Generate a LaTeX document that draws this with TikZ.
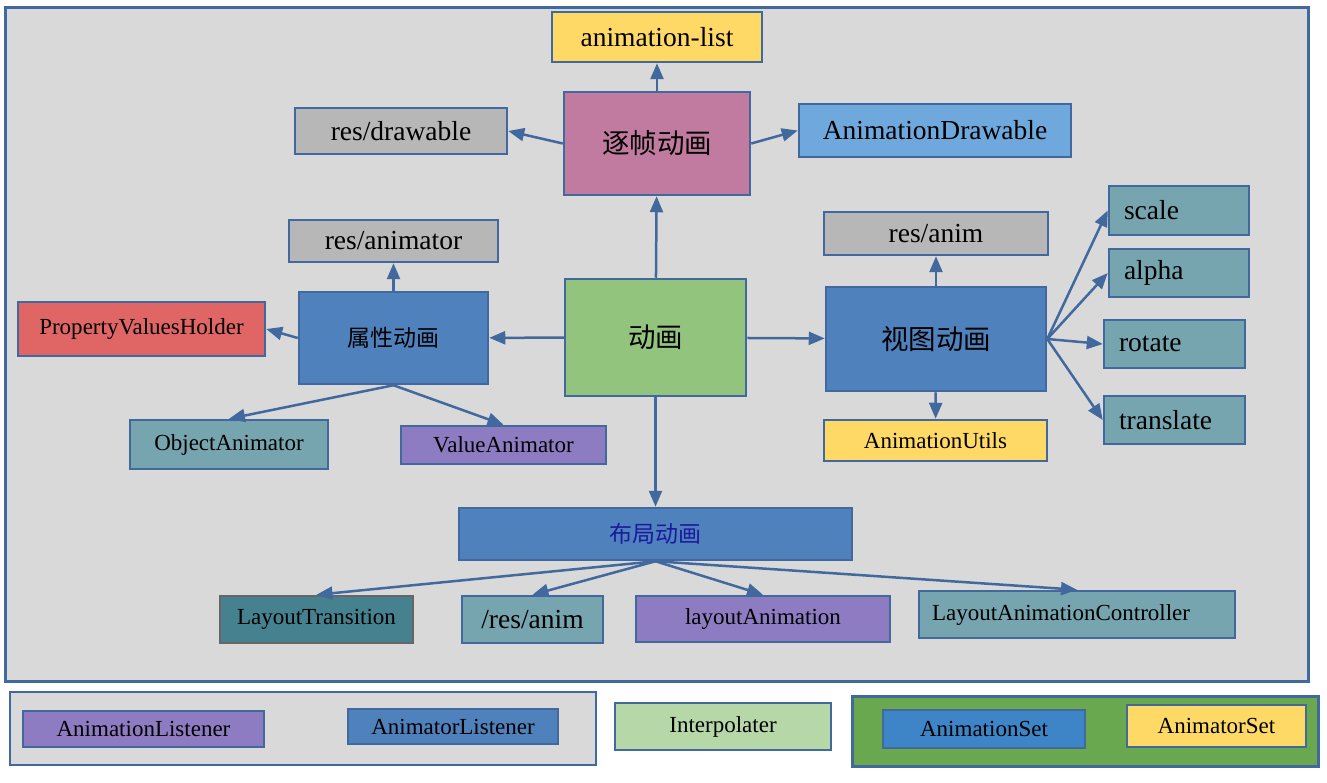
\documentclass[tikz,border=0pt]{standalone}
\usepackage{fontspec}
\setmainfont{Liberation Serif}
\newfontfamily\cjk{Noto Sans CJK SC}
\usepackage{tikz}
\usetikzlibrary{arrows.meta}
\definecolor{edgeblue}{HTML}{41699D}
\definecolor{framegray}{HTML}{D9D9D9}
\definecolor{resgray}{HTML}{B7B7B7}
\definecolor{listyellow}{HTML}{FFD966}
\definecolor{framepink}{HTML}{C27BA0}
\definecolor{drawblue}{HTML}{6FA8DC}
\definecolor{animblue}{HTML}{4F81BD}
\definecolor{holderred}{HTML}{E06666}
\definecolor{rootgreen}{HTML}{93C47D}
\definecolor{viewteal}{HTML}{76A5AF}
\definecolor{valpurple}{HTML}{8E7CC3}
\definecolor{transteal}{HTML}{45818E}
\definecolor{transgray}{HTML}{666666}
\definecolor{interpgreen}{HTML}{B6D7A8}
\definecolor{setgreen}{HTML}{6AA84F}
\definecolor{setblue}{HTML}{3D85C6}
\definecolor{layouttext}{HTML}{1A1A9E}

\begin{document}
\begin{tikzpicture} [x=1pt, y=-1pt, >={Triangle[length=16pt, width=13pt]},
  blk/.style={draw=edgeblue, line width=2.5pt, inner sep=0pt},
  big/.style={font=\fontsize{27.5}{30}\selectfont},
  small/.style={font=\fontsize{23}{26}\selectfont},
  bigcjk/.style={font=\cjk\fontsize{27.5}{30}\selectfont},
  smallcjk/.style={font=\cjk\fontsize{23}{26}\selectfont},
  padleft/.style={text width=#1, align=left}]
\useasboundingbox (0,0) rectangle (1327,783);
\node[blk, line width=3pt, fill=framegray, minimum width=1303, minimum height=673](frame) at (656.5,344.5){};
\node[blk, fill=framegray, minimum width=586, minimum height=73](listeners) at (303,728.5){};
\node[blk, line width=3pt, fill=setgreen, minimum width=466, minimum height=70](sets) at (1085,731){};
% frame by frame
\node[blk, fill=listyellow, big, minimum width=210, minimum height=50](alist) at (657,37){animation-list};
\node[blk, fill=framepink, bigcjk, minimum width=186, minimum height=103](frameanim) at (657,143.5){逐帧动画};
\node[blk, fill=resgray, big, minimum width=212, minimum height=46](drawable) at (401,131){res/drawable};
\node[blk, fill=drawblue, big, minimum width=272, minimum height=53](adrawable) at (935,130.5){AnimationDrawable};
% property
\node[blk, fill=resgray, big, minimum width=209, minimum height=42](animator) at (393.5,241){res/animator};
\node[blk, fill=animblue, smallcjk, minimum width=189, minimum height=92](propanim) at (393.5,338){属性动画};
\node[blk, fill=holderred, small, minimum width=247, minimum height=54](holder) at (141.5,329){PropertyValuesHolder};
\node[blk, fill=viewteal, small, minimum width=198, minimum height=49](objanim) at (229,444.5){ObjectAnimator};
\node[blk, fill=valpurple, small, minimum width=205, minimum height=38](valanim) at (503.5,445){ValueAnimator};
% root
\node[blk, fill=rootgreen, bigcjk, minimum width=181, minimum height=117](root) at (655.5,337.5){动画};
% view
\node[blk, fill=resgray, big, minimum width=224, minimum height=43](resanim) at (936,233.5){res/anim};
\node[blk, fill=animblue, bigcjk, minimum width=220, minimum height=104](viewanim) at (936,339){视图动画};
\node[blk, fill=listyellow, small, minimum width=223, minimum height=41](utils) at (935.5,440.5){AnimationUtils};
\node[blk, fill=viewteal, big, padleft=110, minimum width=140, minimum height=49](scale) at (1179,210.5){scale};
\node[blk, fill=viewteal, big, padleft=110, minimum width=140, minimum height=48](alpha) at (1179,273){alpha};
\node[blk, fill=viewteal, big, padleft=111, minimum width=141, minimum height=48](rotate) at (1174.5,344){rotate};
\node[blk, fill=viewteal, big, padleft=111, minimum width=141, minimum height=48](translate) at (1174.5,420){translate};
% layout
\node[blk, fill=animblue, smallcjk, text=layouttext, minimum width=393, minimum height=52](layoutanim) at (655.5,534){布局动画};
\node[blk, draw=transgray, fill=transteal, small, minimum width=193, minimum height=47](transition) at (316.5,619.5){LayoutTransition};
\node[blk, fill=viewteal, big, minimum width=141, minimum height=47](resanim2) at (532.5,619.5){/res/anim};
\node[blk, fill=valpurple, small, minimum width=254, minimum height=46](lanimation) at (763,619){layoutAnimation};
\node[blk, fill=viewteal, small, padleft=290, minimum width=316, minimum height=47](controller) at (1077,614.5){LayoutAnimationController};
% legend
\node[blk, fill=valpurple, small, minimum width=241, minimum height=36](alistener) at (143.5,729){AnimationListener};
\node[blk, fill=animblue, small, minimum width=210, minimum height=35](rlistener) at (453,726.5){AnimatorListener};
\node[blk, fill=interpgreen, small, minimum width=216, minimum height=47](interp) at (723,726.5){Interpolater};
\node[blk, fill=setblue, small, minimum width=202, minimum height=38](aset) at (984,729){AnimationSet};
\node[blk, fill=listyellow, small, minimum width=179, minimum height=42](rset) at (1216.5,726){AnimatorSet};
\begin{scope}[draw=edgeblue, line width=2.5pt]
\draw [->] (frameanim) -- (alist);
\draw [->] (frameanim.west) -- (drawable.east);
\draw [->] (frameanim.east) -- (adrawable.west);
\draw [->] (root) -- (frameanim);
\draw [->] (root) -- (propanim);
\draw [->] (root) -- (viewanim);
\draw [->] (root) -- (layoutanim);
\draw [->] (propanim) -- (animator);
\draw [->] (propanim.west) -- (holder.east);
\draw [->] (propanim.south) -- (objanim.north);
\draw [->] (propanim.south) -- (valanim.north);
\draw [->] (viewanim) -- (resanim);
\draw [->] (viewanim) -- (utils);
\draw [->] (viewanim.east) -- (scale.west);
\draw [->] (viewanim.east) -- (alpha.west);
\draw [->] (viewanim.east) -- (rotate.west);
\draw [->] (viewanim.east) -- (translate.west);
\draw [->] (layoutanim.south) -- (transition.north);
\draw [->] (layoutanim.south) -- (resanim2.north);
\draw [->] (layoutanim.south) -- (lanimation.north);
\draw [->] (layoutanim.south) -- (controller.north);
\end{scope}
\end{tikzpicture}
\end{document}
